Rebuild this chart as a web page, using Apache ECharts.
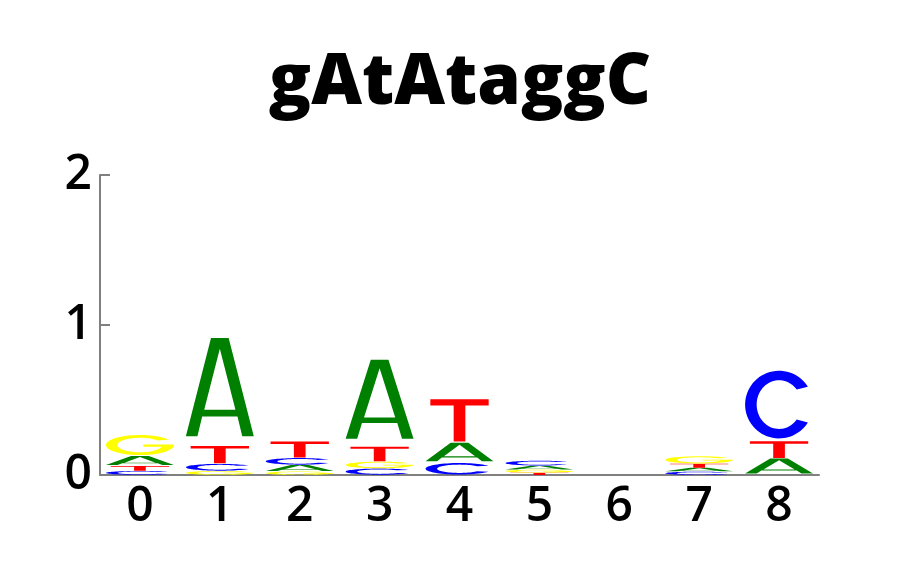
<!DOCTYPE html>
<html>
<head>
<meta charset="utf-8">
<script src="https://cdn.jsdelivr.net/npm/echarts@6/dist/echarts.min.js"></script>
<style>html,body{margin:0;padding:0;background:#fff;}#chart{width:920px;height:575px;}</style>
</head>
<body>
<div id="chart"></div>
<script>
// ---- data ----
const titleText = 'gAtAtaggC';
const positions = ['0', '1', '2', '3', '4', '5', '6', '7', '8'];
const yTicks = [0, 1, 2];
const heightA = [0.067, 0.72, 0.044, 0.58, 0.135, 0.027, 0, 0.026, 0.11];
const heightC = [0.027, 0.047, 0.046, 0.043, 0.08, 0.033, 0, 0.022, 0.47];
const heightG = [0.14, 0.027, 0.023, 0.046, 0, 0.02, 0, 0.05, 0];
const heightT = [0.033, 0.12, 0.11, 0.10, 0.29, 0.015, 0, 0.027, 0.115];

// ---- glyph outlines (unit box, y down) ----
function arc(cx, cy, rx, ry, a0, a1, n) {
  const pts = [];
  for (let k = 0; k <= n; k++) {
    const a = (a0 + (a1 - a0) * k / n) * Math.PI / 180;
    pts.push([cx + rx * Math.cos(a), cy - ry * Math.sin(a)]);
  }
  return pts;
}
const glyphC = [arc(0.5, 0.5, 0.5, 0.5, 32, 328, 60).concat(arc(0.5, 0.5, 0.33, 0.36, 322, 38, 60))];
const glyphG = [arc(0.5, 0.5, 0.5, 0.5, 32, 350, 64)
  .concat([[1.0, 0.47], [0.55, 0.47], [0.55, 0.59], [0.82, 0.59]])
  .concat(arc(0.5, 0.5, 0.33, 0.36, -15, -322, 64))];
const glyphA = [
  [[0, 1], [0.37, 0], [0.63, 0], [1, 1], [0.83, 1], [0.76, 0.8], [0.24, 0.8], [0.17, 1]],
  [[0.5, 0.11], [0.27, 0.73], [0.73, 0.73]]
];
const glyphT = [[[0, 0], [1, 0], [1, 0.15], [0.6, 0.15], [0.6, 1], [0.4, 1], [0.4, 0.15], [0, 0.15]]];

const letters = [
  { name: 'A', values: heightA, color: '#008000', shape: glyphA, w: 0.85, pad: 0.09 },
  { name: 'C', values: heightC, color: '#0000ff', shape: glyphC, w: 0.85, pad: 0.04 },
  { name: 'G', values: heightG, color: '#ffff00', shape: glyphG, w: 0.85, pad: 0.04 },
  { name: 'T', values: heightT, color: '#ff0000', shape: glyphT, w: 0.73, pad: 0.03 }
];

const seriesData = positions.map((p, i) => [i, letters.reduce((s, l) => s + l.values[i], 0)]);

const chart = echarts.init(document.getElementById('chart'), null, { renderer: 'canvas' });
chart.setOption({
  animation: false,
  backgroundColor: '#ffffff',
  title: {
    text: titleText,
    left: 'center',
    top: 44,
    textStyle: { fontFamily: 'Open Sans', fontWeight: 800, fontSize: 70, color: '#000' }
  },
  grid: { left: 100, right: 101, top: 175, bottom: 100, containLabel: false },
  xAxis: {
    type: 'category',
    data: positions,
    axisLine: { show: true, lineStyle: { color: '#808080', width: 2 } },
    axisTick: { show: false },
    axisLabel: { fontFamily: 'Open Sans', fontWeight: 600, fontSize: 48, color: '#000', margin: 8 },
    splitLine: { show: false }
  },
  yAxis: {
    type: 'value',
    min: yTicks[0],
    max: yTicks[yTicks.length - 1],
    interval: 1,
    axisLine: { show: true, lineStyle: { color: '#808080', width: 2 } },
    axisTick: { show: true, inside: true, length: 10, lineStyle: { color: '#808080', width: 2 } },
    axisLabel: { fontFamily: 'Open Sans', fontWeight: 600, fontSize: 48, color: '#000', margin: 8 },
    splitLine: { show: false }
  },
  series: [{
    type: 'custom',
    silent: true,
    data: seriesData,
    encode: { x: 0, y: 1 },
    renderItem: function (params, api) {
      const i = api.value(0);
      const band = api.size([1, 0])[0];
      const stack = letters.map(l => ({ l: l, h: l.values[i] }))
        .filter(d => d.h > 0)
        .sort((a, b) => a.h - b.h);
      let base = 0;
      const children = [];
      stack.forEach(d => {
        const pB = api.coord([i, base]);
        const pT = api.coord([i, base + d.h]);
        base += d.h;
        const g = d.l;
        const w = band * g.w;
        const x0 = pB[0] - w / 2;
        const boxH = pB[1] - pT[1];
        const yb = pB[1] - boxH * g.pad;
        const yt = pT[1];
        const hpx = yb - yt;
        const path = g.shape.map(c => 'M' + c.map(p =>
          (x0 + p[0] * w).toFixed(2) + ',' + (yt + p[1] * hpx).toFixed(2)).join('L') + 'Z').join(' ');
        children.push({ type: 'path', shape: { pathData: path }, style: { fill: g.color } });
      });
      return { type: 'group', children: children };
    }
  }]
});
</script>
</body>
</html>
